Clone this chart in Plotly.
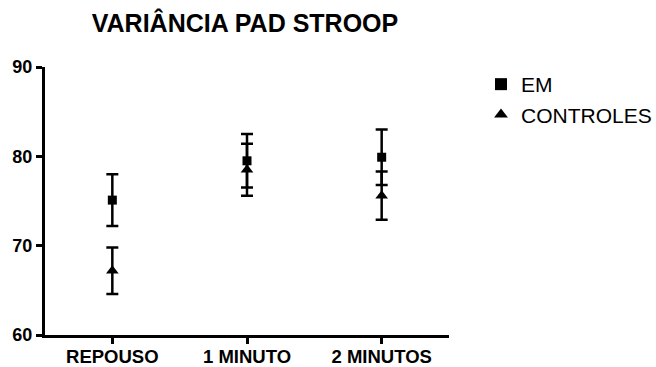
import plotly.graph_objects as go

categories = ["REPOUSO", "1 MINUTO", "2 MINUTOS"]
em_mean = [75.1, 79.5, 79.9]
em_err = [2.9, 3.0, 3.1]
ctrl_mean = [67.2, 78.5, 75.6]
ctrl_err = [2.6, 2.9, 2.7]
y_ticks = [60, 70, 80, 90]

FONT = "Liberation Sans, Arial"

fig = go.Figure()
fig.add_trace(go.Scatter(
    x=categories, y=em_mean, mode="markers", name="EM",
    marker=dict(symbol="square", size=9, color="black"),
    error_y=dict(type="data", array=em_err, visible=True, color="black", thickness=2.5, width=6),
))
fig.add_trace(go.Scatter(
    x=categories, y=ctrl_mean, mode="markers", name="CONTROLES",
    marker=dict(symbol="triangle-up", size=11, color="black"),
    error_y=dict(type="data", array=ctrl_err, visible=True, color="black", thickness=2.5, width=6),
))

fig.update_layout(
    width=656, height=367,
    margin=dict(l=45, r=207, t=67, b=32),
    paper_bgcolor="white", plot_bgcolor="white",
    title=dict(text="<b>VARIÂNCIA PAD STROOP</b>", x=245 / 656, xanchor="center",
               y=1 - 23 / 367, yanchor="middle", yref="container",
               font=dict(family=FONT, size=25, color="black")),
    font=dict(family=FONT, color="black"),
    legend=dict(xref="container", yref="container", x=481 / 656, y=1 - 64 / 367,
                xanchor="left", yanchor="top",
                font=dict(size=21, color="black"), itemsizing="constant",
                tracegroupgap=0, bgcolor="rgba(0,0,0,0)"),
    showlegend=True,
)
fig.update_xaxes(
    type="category", range=[-0.5, 2.5], automargin=False,
    showline=True, linecolor="black", linewidth=3,
    ticks="outside", ticklen=6, tickwidth=3, tickcolor="black",
    ticklabelstandoff=-3,
    tickfont=dict(size=18.5, family=FONT, color="black", weight="bold"),
    showgrid=False, zeroline=False,
)
fig.update_yaxes(
    range=[60, 90], tickvals=y_ticks, automargin=False,
    showline=True, linecolor="black", linewidth=3,
    ticks="outside", ticklen=6, tickwidth=3, tickcolor="black",
    tickfont=dict(size=18, family=FONT, color="black", weight="bold"),
    showgrid=False, zeroline=False,
)

fig.write_html("out.html", config={"displayModeBar": False},
               post_script="document.body.style.margin='0';")
